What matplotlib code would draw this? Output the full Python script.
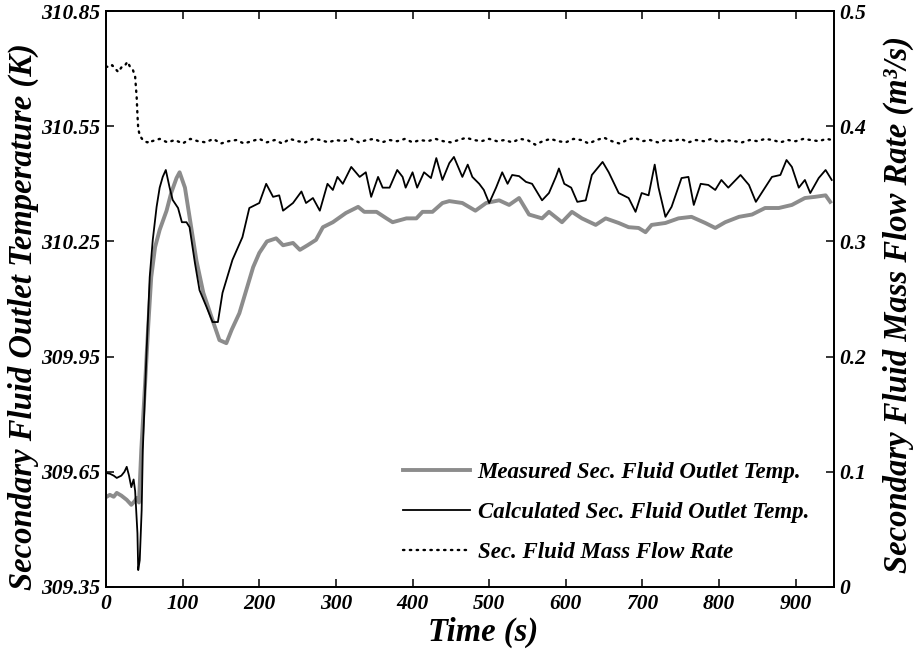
import numpy as np
import matplotlib
matplotlib.use("Agg")
import matplotlib.pyplot as plt

# measured secondary fluid outlet temperature (K)
t_meas = [0, 5, 10, 14, 20, 27, 33, 38, 40, 43, 46, 51, 55, 59, 64, 70, 79, 85, 92, 96,
          103, 109, 118, 127, 139, 148, 157, 164, 174, 183, 192, 200, 210, 222, 231, 244,
          253, 263, 274, 283, 296, 313, 329, 337, 353, 366, 374, 392, 405, 413, 426, 439,
          448, 465, 482, 496, 513, 526, 539, 552, 569, 578, 595, 608, 621, 639, 652, 669,
          682, 695, 704, 712, 730, 747, 764, 782, 795, 808, 826, 843, 860, 878, 895, 912,
          925, 939, 945]
T_meas = [309.584, 309.59, 309.585, 309.595, 309.588, 309.577, 309.564, 309.575, 309.582,
          309.57, 309.707, 309.88, 310.027, 310.157, 310.235, 310.28, 310.33, 310.376,
          310.415, 310.43, 310.39, 310.314, 310.20, 310.116, 310.045, 309.993, 309.985,
          310.02, 310.063, 310.123, 310.183, 310.22, 310.25, 310.258, 310.24, 310.246,
          310.228, 310.24, 310.254, 310.287, 310.30, 310.324, 310.34, 310.327, 310.327,
          310.31, 310.30, 310.31, 310.31, 310.327, 310.327, 310.35, 310.355, 310.35,
          310.33, 310.35, 310.357, 310.345, 310.363, 310.32, 310.31, 310.327, 310.30,
          310.327, 310.31, 310.293, 310.31, 310.298, 310.287, 310.285, 310.274, 310.293,
          310.298, 310.31, 310.314, 310.298, 310.285, 310.30, 310.314, 310.32, 310.337,
          310.337, 310.345, 310.363, 310.366, 310.37, 310.353]

# calculated secondary fluid outlet temperature (K)
t_calc = [0, 5, 10, 14, 20, 24, 27, 30, 33, 36, 38, 41, 42, 44, 46.5, 48, 53, 57, 61, 66,
          70, 74, 78, 83, 87, 94, 99, 105, 109, 116, 122, 131, 139, 146, 152, 165, 178,
          187, 200, 209, 218, 226, 231, 244, 255, 261, 270, 279, 289, 296, 302, 309, 320,
          331, 339, 346, 355, 361, 370, 380, 387, 391, 400, 406, 415, 424, 431, 439, 448,
          454, 465, 472, 478, 487, 493, 500, 509, 517, 524, 530, 539, 548, 556, 569, 578,
          587, 591, 598, 607, 615, 626, 634, 648, 656, 669, 682, 691, 699, 708, 711, 716,
          721, 730, 738, 751, 760, 767, 776, 786, 795, 803, 812, 828, 839, 848, 858, 869,
          880, 888, 895, 904, 912, 919, 930, 939, 947]
T_calc = [309.647, 309.645, 309.64, 309.634, 309.64, 309.65, 309.663, 309.64, 309.61,
          309.63, 309.60, 309.49, 309.394, 309.42, 309.55, 309.707, 309.967, 310.157,
          310.254, 310.34, 310.39, 310.418, 310.436, 310.39, 310.358, 310.337, 310.30,
          310.30, 310.287, 310.194, 310.123, 310.08, 310.04, 310.04, 310.116, 310.202,
          310.261, 310.337, 310.35, 310.40, 310.366, 310.37, 310.33, 310.35, 310.38,
          310.35, 310.363, 310.33, 310.40, 310.384, 310.418, 310.40, 310.444, 310.418,
          310.43, 310.366, 310.418, 310.39, 310.39, 310.436, 310.418, 310.39, 310.43,
          310.39, 310.43, 310.415, 310.467, 310.41, 310.454, 310.47, 310.418, 310.45,
          310.418, 310.40, 310.384, 310.35, 310.39, 310.43, 310.40, 310.423, 310.42,
          310.405, 310.40, 310.357, 310.376, 310.418, 310.44, 310.40, 310.39, 310.353,
          310.357, 310.423, 310.457, 310.43, 310.376, 310.363, 310.327, 310.376, 310.37,
          310.40, 310.45, 310.39, 310.314, 310.34, 310.415, 310.418, 310.345, 310.40,
          310.397, 310.384, 310.41, 310.39, 310.423, 310.397, 310.353, 310.384, 310.418,
          310.423, 310.462, 310.444, 310.39, 310.41, 310.376, 310.415, 310.436, 310.41]

# secondary fluid mass flow rate (m3/s)
t_flow = [0, 4, 8, 12, 16, 20, 24, 28, 31, 35, 38, 40, 41, 42, 44, 47, 50, 54, 58,
          60, 70, 80, 90, 100, 110, 120, 130, 140, 150, 160, 170, 180, 190, 200, 210,
          220, 230, 240, 250, 260, 270, 280, 290, 300, 310, 320, 330, 340, 350, 360,
          370, 380, 390, 400, 410, 420, 430, 440, 450, 460, 470, 480, 490, 500, 510,
          520, 530, 540, 550, 560, 570, 580, 590, 600, 610, 620, 630, 640, 650, 660,
          670, 680, 690, 700, 710, 720, 730, 740, 750, 760, 770, 780, 790, 800, 810,
          820, 830, 840, 850, 860, 870, 880, 890, 900, 910, 920, 930, 940, 948]
flow = [0.452, 0.451, 0.453, 0.450, 0.447, 0.451, 0.452, 0.456, 0.452, 0.449, 0.443,
        0.425, 0.410, 0.398, 0.392, 0.389, 0.387, 0.386, 0.388,
        0.387, 0.389, 0.386, 0.388, 0.385, 0.389, 0.387, 0.386, 0.389, 0.385, 0.387,
        0.388, 0.385, 0.387, 0.389, 0.386, 0.388, 0.385, 0.389, 0.387, 0.386, 0.389,
        0.388, 0.386, 0.388, 0.387, 0.389, 0.386, 0.388, 0.389, 0.386, 0.388, 0.387,
        0.389, 0.386, 0.388, 0.387, 0.389, 0.387, 0.386, 0.388, 0.390, 0.388, 0.387,
        0.389, 0.387, 0.388, 0.386, 0.389, 0.388, 0.384, 0.387, 0.389, 0.387, 0.386,
        0.389, 0.388, 0.385, 0.388, 0.390, 0.387, 0.385, 0.388, 0.390, 0.387, 0.388,
        0.386, 0.388, 0.387, 0.389, 0.386, 0.388, 0.387, 0.389, 0.386, 0.388, 0.387,
        0.386, 0.388, 0.387, 0.389, 0.388, 0.386, 0.388, 0.387, 0.389, 0.388, 0.387,
        0.389, 0.388]

x_ticks = [0, 100, 200, 300, 400, 500, 600, 700, 800, 900]
temp_ticks = [309.35, 309.65, 309.95, 310.25, 310.55, 310.85]
flow_ticks = [0, 0.1, 0.2, 0.3, 0.4, 0.5]
flow_tick_labels = ["0", "0.1", "0.2", "0.3", "0.4", "0.5"]

font = "Liberation Serif"
tick_fs = 15.5

fig = plt.figure(figsize=(9.14, 6.52), dpi=100)
ax = fig.add_axes([0.116, 0.0997, 0.7965, 0.8834])
ax2 = ax.twinx()

l1, = ax.plot(t_meas, T_meas, color="#8c8c8c", lw=2.8, solid_joinstyle="round",
              label="Measured Sec. Fluid Outlet Temp.")
l2, = ax.plot(t_calc, T_calc, color="black", lw=1.3,
              label="Calculated Sec. Fluid Outlet Temp.")
l3, = ax2.plot(t_flow, flow, color="black", lw=1.7, linestyle=(0, (0.6, 2.3)),
               dash_capstyle="round", label="Sec. Fluid Mass Flow Rate")

ax.set_xlim(0, 950)
ax.set_ylim(309.35, 310.85)
ax2.set_ylim(0, 0.5)
ax.set_xticks(x_ticks)
ax.set_yticks(temp_ticks)
ax.set_yticklabels(["%.2f" % v for v in temp_ticks])
ax2.set_yticks(flow_ticks)
ax2.set_yticklabels(flow_tick_labels)

ax.tick_params(axis="x", direction="in", top=True, length=6, width=1.1, pad=5)
ax.tick_params(axis="y", direction="in", length=6, width=1.1, pad=4)
ax2.tick_params(axis="y", direction="in", length=6, width=1.1, pad=4)
for a in (ax, ax2):
    for s in a.spines.values():
        s.set_linewidth(1.3)
    for lab in a.get_xticklabels() + a.get_yticklabels():
        lab.set_fontfamily(font)
        lab.set_fontweight("bold")
        lab.set_fontstyle("italic")
        lab.set_fontsize(tick_fs)

lab_kw = dict(fontfamily=font, fontweight="bold", fontstyle="italic", fontsize=23.5)
ax.set_xlabel("Time (s)", **lab_kw)
ax.set_ylabel("Secondary Fluid Outlet Temperature (K)", va="center", **lab_kw)
ax2.set_ylabel("Secondary Fluid Mass Flow Rate (m³/s)", va="center", **lab_kw)
ax.xaxis.set_label_coords(0.518, -0.052)
ax.yaxis.set_label_coords(-0.114, 0.47)
ax2.yaxis.set_label_coords(1.088, 0.491)

leg = ax.legend(handles=[l1, l2, l3], loc="lower left", bbox_to_anchor=(0.408, 0.042),
                frameon=False, handlelength=2.9, handletextpad=0.35, labelspacing=0.83,
                borderpad=0, borderaxespad=0,
                prop=dict(family=font, weight="bold", style="italic", size=16.5))

fig.savefig("out.png", dpi=100)
